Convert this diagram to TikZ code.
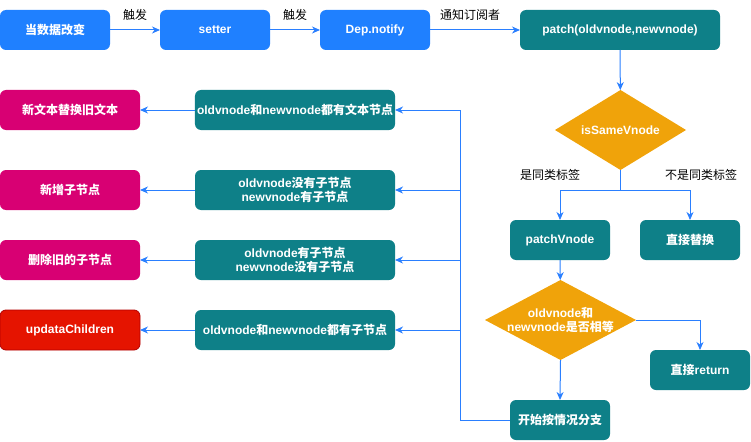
\documentclass[tikz,border=0pt]{standalone}
\usepackage{fontspec}
\setmainfont{Liberation Sans}
\newfontfamily\cjkfont{Noto Sans CJK SC}
\newcommand\zh[1]{{\cjkfont #1}}
\usetikzlibrary{shapes.geometric,arrows.meta}
\definecolor{fblue}{HTML}{1F80FF}
\definecolor{lineblue}{HTML}{2A7FFF}
\definecolor{tealc}{HTML}{0E8088}
\definecolor{magc}{HTML}{D80073}
\definecolor{redc}{HTML}{E51400}
\definecolor{redline}{HTML}{B20000}
\definecolor{amberc}{HTML}{F0A30A}
\tikzset{
  box/.style={rectangle, rounded corners=6pt, minimum height=40pt, inner sep=2pt, outer sep=0pt,
    text=white, font=\bfseries\fontsize{12}{14}\selectfont, align=center},
  bluebox/.style={box, fill=fblue, minimum width=110pt},
  tealbox/.style={box, fill=tealc, minimum width=100pt},
  widebox/.style={box, fill=tealc, minimum width=200pt},
  magbox/.style={box, fill=magc, minimum width=140pt},
  redbox/.style={box, fill=redc, draw=redline, line width=0.8pt, minimum width=140pt},
  dia/.style={diamond, fill=amberc, inner sep=-4pt, outer sep=0pt, text=white,
    font=\bfseries\fontsize{12}{14}\selectfont, align=center},
  arr/.style={draw=lineblue, line width=1pt, -{Stealth[length=8pt,width=7pt,inset=2.5pt]}},
  plain/.style={draw=lineblue, line width=1pt},
  lbl/.style={font=\fontsize{12}{14}\selectfont, text=black, inner sep=1pt}
}
\begin{document}
\begin{tikzpicture}[x=1pt,y=-1pt]
\useasboundingbox (0,0) rectangle (751,441);
% top row
\node[bluebox] (n1) at (55,30) {\zh{当数据改变}};
\node[bluebox] (n2) at (215,30) {setter};
\node[bluebox] (n3) at (375,30) {Dep.notify};
\node[widebox] (patch) at (620,30) {patch(oldvnode,newvnode)};
% right column
\node[dia, aspect=1.64, minimum width=131pt, minimum height=80pt] (d1) at (620.5,130) {isSameVnode};
\node[tealbox] (pv) at (560,240) {patchVnode};
\node[tealbox] (rep) at (690,240) {\zh{直接替换}};
\node[dia, aspect=1.89, minimum width=151pt, minimum height=80pt] (d2) at (560.5,320) {oldvnode\zh{和}\\newvnode\zh{是否相等}};
\node[tealbox] (ret) at (700,370) {\zh{直接}return};
\node[tealbox] (start) at (560,420) {\zh{开始按情况分支}};
% left columns
\node[widebox] (t1) at (295,110) {oldvnode\zh{和}newvnode\zh{都有文本节点}};
\node[widebox] (t2) at (295,190) {oldvnode\zh{没有子节点}\\newvnode\zh{有子节点}};
\node[widebox] (t3) at (295,260) {oldvnode\zh{有子节点}\\newvnode\zh{没有子节点}};
\node[widebox] (t4) at (295,330) {oldvnode\zh{和}newvnode\zh{都有子节点}};
\node[magbox] (m1) at (70,110) {\zh{新文本替换旧文本}};
\node[magbox] (m2) at (70,190) {\zh{新增子节点}};
\node[magbox] (m3) at (70,260) {\zh{删除旧的子节点}};
\node[redbox] (m4) at (70,330) {updataChildren};
% labels
\node[lbl] (l1) at (135,15) {\zh{触发}};
\node[lbl] (l2) at (295,15) {\zh{触发}};
\node[lbl] (l3) at (470,15) {\zh{通知订阅者}};
\node[lbl] (l4) at (550,175) {\zh{是同类标签}};
\node[lbl] (l5) at (701,175) {\zh{不是同类标签}};
% connectors
\draw[arr] (n1) -- (n2);
\draw[arr] (n2) -- (n3);
\draw[arr] (n3) -- (patch);
\draw[arr] (patch) -- (d1);
\coordinate (split) at (620.5,190);
\draw[plain] (d1.south) -- (split);
\draw[arr] (split) -| (pv.north);
\draw[arr] (split) -| (rep.north);
\draw[arr] (pv) -- (d2);
\draw[arr] (d2.east) -| (ret.north);
\draw[arr] (d2.south) -- (start.north);
\coordinate (bus) at (460,420);
\draw[plain] (start.west) -- (bus) -- (bus |- t1.east);
\draw[arr] (bus |- t1.east) -- (t1.east);
\draw[arr] (bus |- t2.east) -- (t2.east);
\draw[arr] (bus |- t3.east) -- (t3.east);
\draw[arr] (bus |- t4.east) -- (t4.east);
\draw[arr] (t1) -- (m1);
\draw[arr] (t2) -- (m2);
\draw[arr] (t3) -- (m3);
\draw[arr] (t4) -- (m4);
\end{tikzpicture}
\end{document}
